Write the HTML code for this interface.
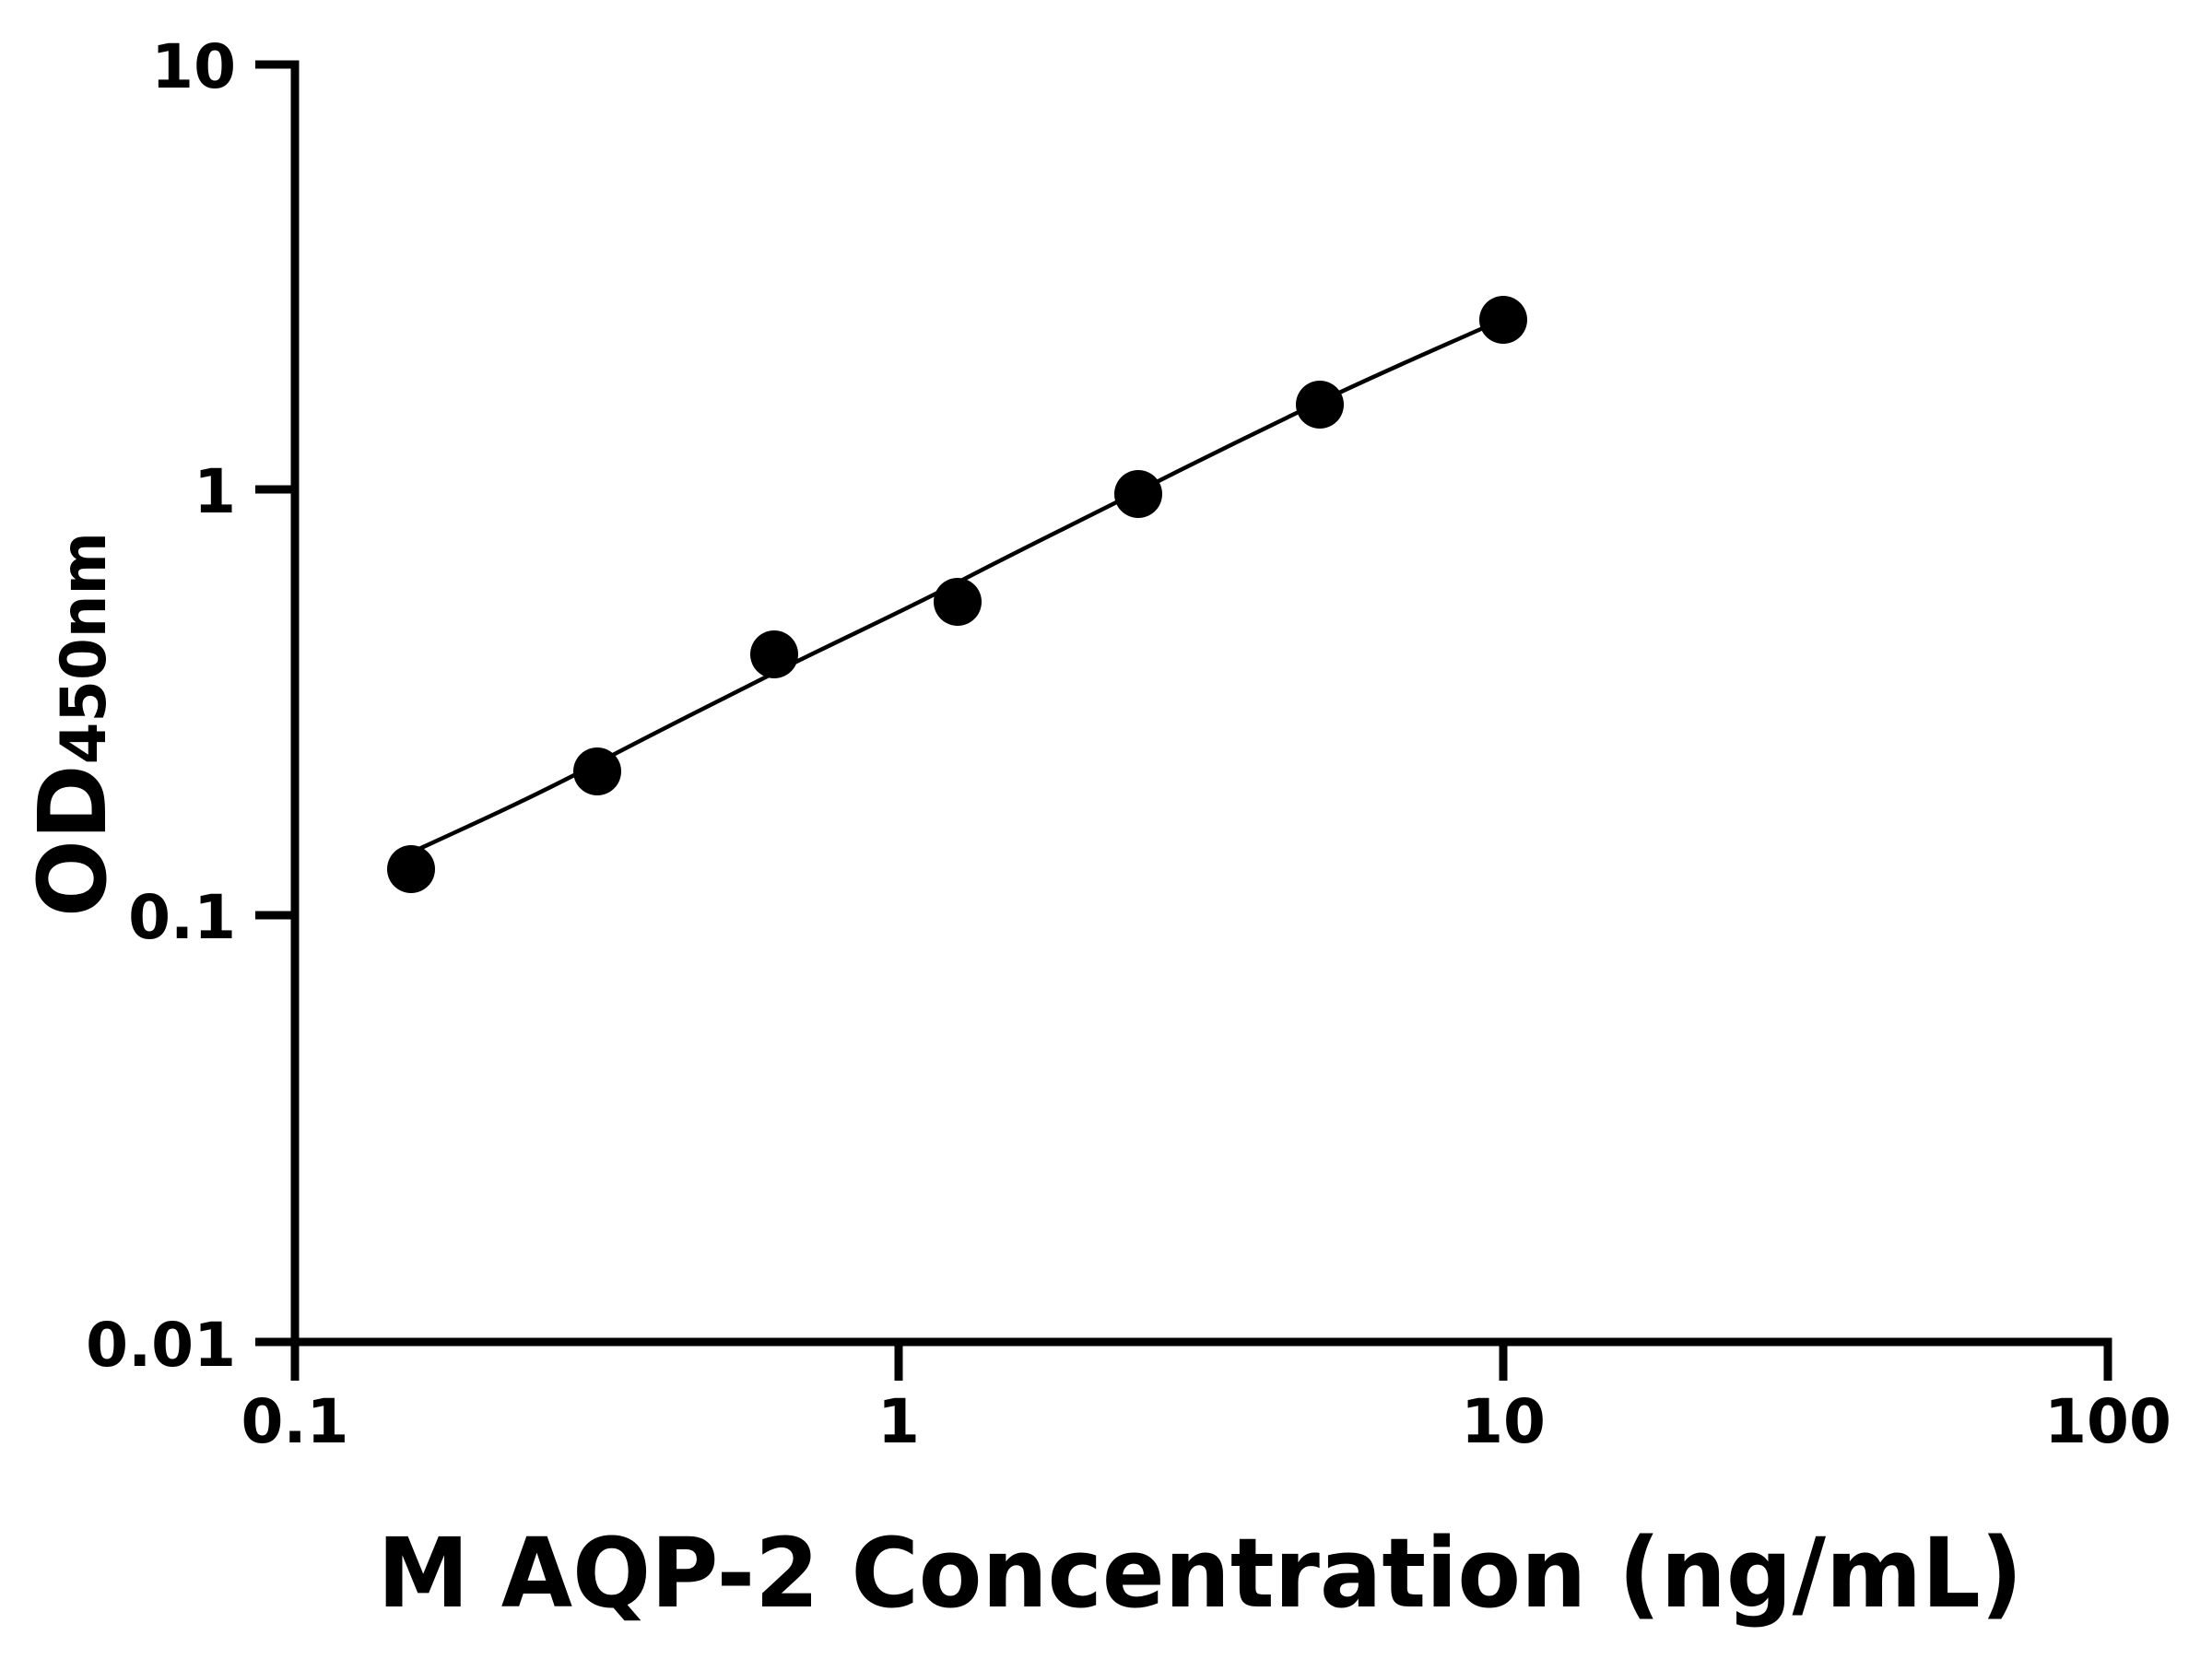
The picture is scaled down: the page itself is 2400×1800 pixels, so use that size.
<!DOCTYPE html>
<html><head><style>
html,body{margin:0;padding:0;background:#fff;}
svg{display:block;}
text{font-family:"DejaVu Sans","Liberation Sans",sans-serif;font-weight:bold;fill:#000;}
</style></head><body>
<svg width="2400" height="1800" viewBox="0 0 2400 1800" xmlns="http://www.w3.org/2000/svg">
<g stroke="#000" stroke-width="9" fill="none" stroke-linecap="butt">
<line x1="320" y1="65.5" x2="320" y2="1460"/>
<line x1="315.5" y1="1456" x2="2291.5" y2="1456"/>
<line x1="277" y1="70" x2="320" y2="70"/>
<line x1="277" y1="531" x2="320" y2="531"/>
<line x1="277" y1="993" x2="320" y2="993"/>
<line x1="277" y1="1456" x2="320" y2="1456"/>
<line x1="320" y1="1456" x2="320" y2="1498"/>
<line x1="975" y1="1456" x2="975" y2="1498"/>
<line x1="1631" y1="1456" x2="1631" y2="1498"/>
<line x1="2287" y1="1456" x2="2287" y2="1498"/>
</g>
<g font-size="66" text-anchor="end">
<text x="256" y="95">10</text>
<text x="256" y="556">1</text>
<text x="256" y="1018">0.1</text>
<text x="256" y="1482">0.01</text>
</g>
<g font-size="66" text-anchor="middle">
<text x="320" y="1565">0.1</text>
<text x="975" y="1565">1</text>
<text x="1631" y="1565">10</text>
<text x="2287" y="1565">100</text>
</g>
<text x="1302" y="1743" font-size="104" text-anchor="middle" textLength="1785" lengthAdjust="spacingAndGlyphs">M AQP-2 Concentration (ng/mL)</text>
<text transform="translate(114,995) rotate(-90)" font-size="102" textLength="418" lengthAdjust="spacingAndGlyphs">OD<tspan font-size="68">450nm</tspan></text>
<path d="M446,925 C518,892 578,865 648,828 S777,762 840,730 S976,665 1039,632 S1166,568 1235,533 S1365,468 1432,436 S1555,380 1609,356" stroke="#000" stroke-width="4.5" fill="none"/>
<g fill="#000">
<circle cx="446" cy="943" r="26"/>
<circle cx="648" cy="837" r="26"/>
<circle cx="840" cy="710" r="26"/>
<circle cx="1039" cy="653" r="26"/>
<circle cx="1235" cy="536" r="26"/>
<circle cx="1432" cy="439" r="26"/>
<circle cx="1631" cy="347" r="26"/>
</g>
</svg>
</body></html>
